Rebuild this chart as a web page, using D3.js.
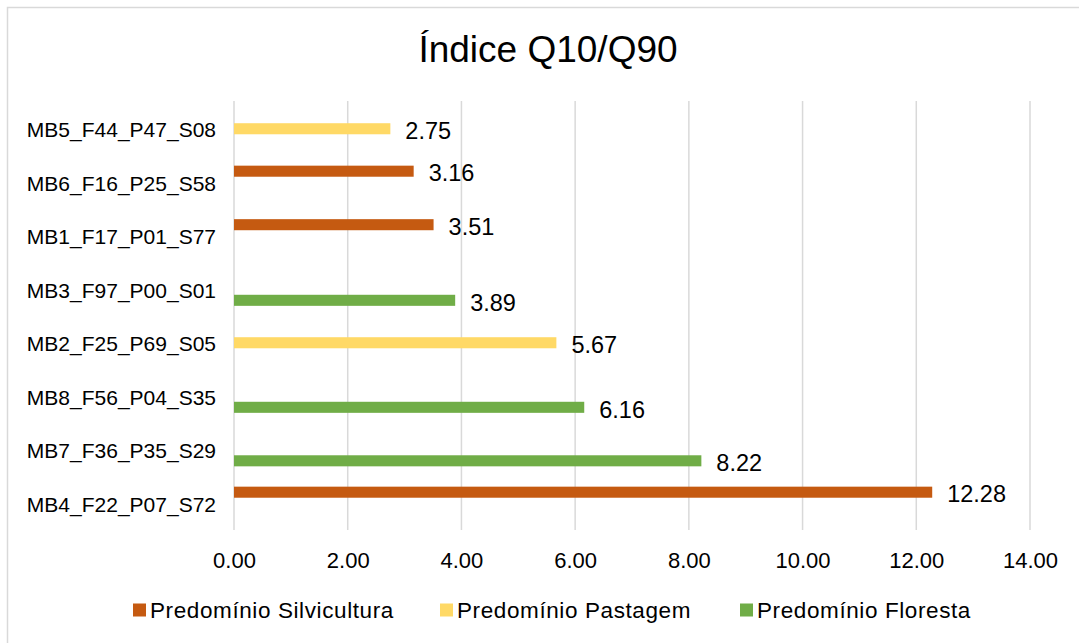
<!DOCTYPE html>
<html>
<head>
<meta charset="utf-8">
<script src="https://cdn.jsdelivr.net/npm/d3@7"></script>
<style>
  html, body { margin: 0; padding: 0; background: #fff; }
  svg { display: block; font-family: "Liberation Sans", Arial, sans-serif; }
</style>
</head>
<body>
<svg id="chart" width="1079" height="643"></svg>
<script>
// Watersheds, top to bottom
const categories = [
  "MB5_F44_P47_S08", "MB6_F16_P25_S58", "MB1_F17_P01_S77", "MB3_F97_P00_S01",
  "MB2_F25_P69_S05", "MB8_F56_P04_S35", "MB7_F36_P35_S29", "MB4_F22_P07_S72"
];
const seriesNames = ["Predomínio Silvicultura", "Predomínio Pastagem", "Predomínio Floresta"];
const seriesColors = ["#C55A11", "#FFD966", "#70AD47"];
// Q10/Q90 index per series (null = no bar)
const silvicultura = [null, 3.16, 3.51, null, null, null, null, 12.28];
const pastagem     = [2.75, null, null, null, 5.67, null, null, null];
const floresta     = [null, null, null, 3.89, null, 6.16, 8.22, null];
const xTicks = [0, 2, 4, 6, 8, 10, 12, 14];
const title = "Índice Q10/Q90";

const seriesValues = [silvicultura, pastagem, floresta];
const svg = d3.select("#chart");
const W = 1079, H = 643;
const FONT = "Liberation Sans, Arial, sans-serif";

// chart border
svg.append("rect")
  .attr("x", 7.5).attr("y", 7.5)
  .attr("width", W + 10).attr("height", H + 10)
  .attr("fill", "#fff").attr("stroke", "#d9d9d9").attr("stroke-width", 1.5);

const plot = { left: 234, right: 1030, top: 102, bottom: 530 };

const x = d3.scaleLinear().domain([0, 14]).range([plot.left, plot.right]);
const y = d3.scaleBand().domain(categories).range([plot.top, plot.bottom]).paddingInner(0.38).paddingOuter(0.19);
const ys = d3.scaleBand().domain(d3.range(3)).range([0, y.bandwidth()]);

// gridlines
svg.append("g").selectAll("line").data(xTicks).join("line")
  .attr("x1", d => x(d)).attr("x2", d => x(d))
  .attr("y1", plot.top - 1).attr("y2", plot.bottom)
  .attr("stroke", "#d9d9d9").attr("stroke-width", 1.5);

// x-axis tick labels
const xAxis = d3.axisBottom(x).tickValues(xTicks).tickFormat(d3.format(".2f")).tickSize(0).tickPadding(0);
const gx = svg.append("g").attr("transform", `translate(0,${plot.bottom + 22})`).call(xAxis);
gx.select(".domain").remove();
gx.selectAll("text").attr("font-size", 22).attr("fill", "#000")
  .attr("font-family", FONT).attr("dy", "0.71em");

// category labels
const yAxis = d3.axisLeft(y).tickSize(0).tickPadding(0);
const gy = svg.append("g").attr("transform", `translate(${plot.left - 18},2)`).call(yAxis);
gy.select(".domain").remove();
gy.selectAll("text").attr("font-size", 21).attr("fill", "#000")
  .attr("font-family", FONT);

// bars
const bars = [];
seriesValues.forEach((vals, si) => {
  vals.forEach((v, ci) => {
    if (v != null) bars.push({ cat: categories[ci], s: si, v });
  });
});

svg.append("g").selectAll("rect").data(bars).join("rect")
  .attr("x", x(0))
  .attr("y", d => y(d.cat) + ys(d.s))
  .attr("width", d => x(d.v) - x(0))
  .attr("height", ys.bandwidth())
  .attr("fill", d => seriesColors[d.s]);

// value labels
svg.append("g").selectAll("text").data(bars).join("text")
  .attr("x", d => x(d.v) + 15)
  .attr("y", d => y(d.cat) + ys(d.s) + ys.bandwidth() / 2 + 2)
  .attr("dy", "0.35em")
  .attr("font-size", 23.5)
  .attr("fill", "#000")
  .text(d => d3.format(".2f")(d.v));

// title
svg.append("text")
  .attr("x", 548).attr("y", 62)
  .attr("text-anchor", "middle")
  .attr("font-size", 37)
  .attr("fill", "#000")
  .text(title);

// legend
const legend = svg.append("g").attr("transform", "translate(0,610)");
const legendX = [133, 440, 740];
seriesNames.forEach((name, i) => {
  const g = legend.append("g").attr("transform", `translate(${legendX[i]},0)`);
  g.append("rect").attr("x", 0).attr("y", -6.5).attr("width", 13).attr("height", 13).attr("fill", seriesColors[i]);
  g.append("text").attr("x", 17).attr("y", 0).attr("dy", "0.35em")
    .attr("font-size", 22.5).attr("letter-spacing", 0.6).attr("fill", "#000").text(name);
});
</script>
</body>
</html>
